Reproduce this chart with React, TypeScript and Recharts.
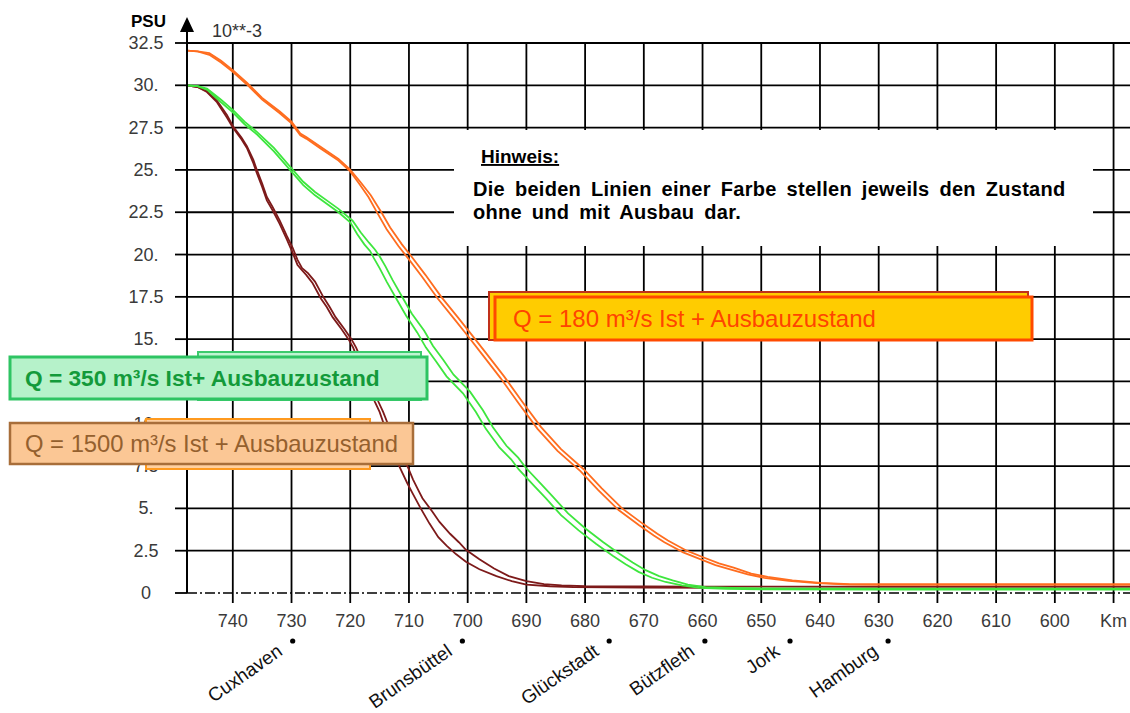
import React from 'react';
import { LineChart, Line, XAxis, YAxis, CartesianGrid } from 'recharts';

const FONT = '"Liberation Sans", Arial, sans-serif';

// Axis ticks and labels
const xTicks = [740, 730, 720, 710, 700, 690, 680, 670, 660, 650, 640, 630, 620, 610, 600, 590];
const xTickLabels = ['740', '730', '720', '710', '700', '690', '680', '670', '660', '650', '640', '630', '620', '610', '600', 'Km'];
const xDomain = [587.2, 747.8];
const yTicks = [0, 2.5, 5, 7.5, 10, 12.5, 15, 17.5, 20, 22.5, 25, 27.5, 30, 32.5];
const yTickLabels = ['0', '2.5', '5.', '7.5', '10.', '12.5', '15.', '17.5', '20.', '22.5', '25.', '27.5', '30.', '32.5'];
const yGridValues = [2.5, 5, 7.5, 10, 12.5, 15, 17.5, 20, 22.5, 25, 27.5, 30, 32.5];

// Places along the Elbe (km)
const placeNames = ['Cuxhaven', 'Brunsbüttel', 'Glückstadt', 'Bützfleth', 'Jork', 'Hamburg'];
const placeKm = [729.8, 700.9, 675.9, 659.6, 645.1, 628.4];

// Salinity [km, PSU]
const q1500Ohne = [[747.8,30.0],[746,29.9],[744.4,29.6],[742.7,29.0],[741,28.1],[740,27.5],[738.5,26.8],[737.6,26.3],[736.5,25.4],[735.9,24.8],[735,24.0],[734.2,23.2],[733.2,22.6],[732,21.8],[730.8,20.9],[729.8,20.1],[729,19.4],[728.3,19.1],[727.5,18.8],[726.4,18.3],[725,17.4],[724,16.9],[723,16.3],[721.5,15.6],[720.3,15.0],[719.5,14.5],[718.5,13.6],[717.5,12.8],[716.5,11.9],[715.8,11.3],[715,10.7],[714.3,10.0],[713.2,9.0],[712.3,8.1],[711.6,7.45],[710.3,6.5],[709.4,5.9],[708,5.0],[706.5,4.1],[705,3.3],[703.6,2.8],[702,2.3],[700.3,1.85],[698,1.4],[695.1,1.0],[692.5,0.7],[690,0.5],[686,0.4],[682,0.35],[670,0.32],[656,0.3]];
const q1500Mit = [[747.8,30.0],[746,29.9],[744.4,29.65],[742.7,29.1],[741,28.25],[740,27.6],[738.5,26.9],[737.6,26.4],[736.5,25.6],[735.9,25.0],[735,24.2],[734.2,23.4],[733.2,22.8],[732,22.0],[730.8,21.1],[729.8,20.4],[729,19.7],[728.2,19.2],[727.2,18.9],[726,18.4],[724.6,17.5],[723.5,16.9],[722.5,16.3],[721,15.6],[719.8,15.0],[719,14.5],[718,13.7],[717,12.9],[716,12.0],[715.2,11.3],[714.4,10.7],[713.6,10.0],[712.5,9.0],[711.5,8.1],[710.2,7.45],[709.3,6.7],[708.3,6.0],[707.7,5.6],[706,4.8],[704.8,4.2],[703,3.5],[701.5,3.0],[700.3,2.55],[698,2.0],[695.5,1.45],[693,1.0],[690,0.7],[687,0.52],[684,0.45],[680,0.4],[660,0.38],[630,0.37],[587.2,0.37]];
const q350Ohne = [[747.8,30.0],[746,29.95],[744.4,29.75],[742,29.0],[740,28.4],[738,27.7],[735.9,27.1],[733,26.1],[730,24.9],[728,24.1],[726,23.5],[724,23.0],[722,22.5],[720,21.9],[718.8,21.2],[717.6,20.6],[716.6,20.2],[716,19.8],[715,19.2],[713.8,18.4],[712,17.3],[710.5,16.4],[708.6,15.4],[707.1,14.5],[705.4,13.7],[703.6,12.8],[700.8,11.8],[698.6,10.7],[696.9,9.7],[694.6,8.6],[692.6,7.9],[691.3,7.3],[688.6,6.3],[686.7,5.6],[684.1,4.6],[681.1,3.7],[678.1,2.9],[675.3,2.2],[673.1,1.7],[670.9,1.25],[668.6,0.9],[666.3,0.65],[663.5,0.45],[660.5,0.3],[656,0.25],[650,0.22],[630,0.2],[587.2,0.2]];
const q350Mit = [[747.8,30.0],[746,29.95],[744.4,29.8],[742,29.15],[740,28.55],[738,27.85],[735.9,27.25],[733,26.3],[730,25.1],[728,24.3],[726,23.7],[724,23.2],[722,22.7],[719.6,22.0],[718.2,21.3],[716.8,20.7],[715.8,20.3],[715,19.9],[714,19.3],[712.8,18.5],[711,17.4],[709.5,16.5],[707.4,15.5],[705.9,14.6],[704.2,13.8],[702.4,12.9],[699.6,11.9],[697.4,10.8],[695.7,9.8],[693.4,8.7],[691.4,8.0],[690.1,7.4],[687.4,6.4],[685.5,5.7],[682.9,4.7],[679.9,3.8],[676.9,3.0],[674.1,2.3],[671.9,1.8],[669.7,1.35],[667.4,1.0],[665.1,0.75],[662.5,0.5],[659.5,0.35],[655,0.3],[650,0.27],[640,0.25],[587.2,0.25]];
const q180Ohne = [[747.8,32.05],[746,32.0],[744,31.8],[742,31.35],[740,30.8],[737.6,30.05],[735,29.15],[732,28.35],[730,27.75],[728.5,27.05],[727.5,26.85],[725,26.25],[722,25.55],[720.1,24.95],[718.5,24.2],[716.9,23.4],[715.3,22.4],[713.8,21.5],[711.8,20.5],[710.2,19.8],[707.8,18.7],[705.1,17.4],[702.3,16.2],[700,15.2],[697.3,14.0],[694.4,12.7],[691.3,11.2],[688.1,9.7],[684.7,8.4],[680.8,7.2],[677.8,6.1],[674.3,4.9],[670.8,4.0],[668.3,3.4],[666.5,3.0],[663.3,2.4],[660.4,2.0],[657.8,1.65],[655.3,1.4],[652.3,1.1],[649.5,0.9],[645.3,0.72],[640.5,0.58],[635,0.5],[630,0.48],[587.2,0.48]];
const q180Mit = [[747.8,32.05],[746,32.0],[744,31.9],[742,31.45],[740,30.9],[737.6,30.15],[735,29.25],[732,28.45],[730,27.85],[728.5,27.15],[727.5,26.95],[725,26.35],[722,25.65],[720.1,25.05],[718.3,24.3],[716.5,23.5],[714.7,22.5],[713.2,21.6],[711.2,20.6],[709.6,19.9],[707.2,18.8],[704.5,17.5],[701.7,16.3],[699.4,15.3],[696.7,14.1],[693.8,12.8],[690.7,11.3],[687.5,9.8],[684.1,8.5],[680.2,7.3],[677.2,6.2],[673.7,5.0],[670.2,4.1],[667.7,3.5],[665.9,3.1],[662.7,2.5],[659.8,2.1],[657.2,1.75],[654.7,1.5],[651.7,1.15],[648.9,0.95],[644.7,0.75],[639.9,0.6],[635,0.53],[630,0.52],[587.2,0.52]];

const toPoints = (pairs: number[][]) => pairs.map(([km, psu]) => ({ km, psu }));

const COL_MAROON = '#7d1a1a';
const COL_GREEN = '#3ee63e';
const COL_ORANGE = '#ff6d1f';

const series = [
  { name: 'Q1500 ohne', data: q1500Ohne, color: COL_MAROON },
  { name: 'Q1500 mit', data: q1500Mit, color: COL_MAROON },
  { name: 'Q350 ohne', data: q350Ohne, color: COL_GREEN },
  { name: 'Q350 mit', data: q350Mit, color: COL_GREEN },
  { name: 'Q180 ohne', data: q180Ohne, color: COL_ORANGE },
  { name: 'Q180 mit', data: q180Mit, color: COL_ORANGE },
];

const XTick = (props: any) => {
  const { x, y, payload } = props;
  const i = xTicks.indexOf(payload.value);
  return (
    <text x={x} y={y + 22} textAnchor="middle" fontSize={18} fill="#3a3a3a" fontFamily={FONT}>
      {i >= 0 ? xTickLabels[i] : payload.value}
    </text>
  );
};

const YTick = (props: any) => {
  const { x, y, payload } = props;
  const i = yTicks.indexOf(payload.value);
  return (
    <text x={x - 27} y={y + 6} textAnchor="middle" fontSize={18} fill="#3a3a3a" fontFamily={FONT}>
      {i >= 0 ? yTickLabels[i] : payload.value}
    </text>
  );
};

const PlaceTick = (props: any) => {
  const { x, y, payload } = props;
  const i = placeKm.indexOf(payload.value);
  const name = i >= 0 ? placeNames[i] : '';
  const tx = x - 9;
  const ty = y + 21;
  return (
    <g>
      <circle cx={x} cy={y + 8} r={2.6} fill="#000" />
      <text x={tx} y={ty} textAnchor="end" fontSize={19} fill="#111" fontFamily={FONT}
        transform={`rotate(-35 ${tx} ${ty})`}>
        {name}
      </text>
    </g>
  );
};

const Overlay = () => (
  <svg width={1130} height={713} style={{ position: 'absolute', left: 0, top: 0, pointerEvents: 'none' }}
    fontFamily={FONT}>
    {/* y axis arrow */}
    <line x1={187} y1={44} x2={187} y2={30} stroke="#000" strokeWidth={2} />
    <polygon points="187,17 180,32 194,32" fill="#000" />
    <text x={131} y={27} fontSize={17} fontWeight="bold" fill="#000">PSU</text>
    <text x={212} y={37} fontSize={18} fill="#333">10**-3</text>

    {/* note box */}
    <rect x={454} y={130} width={639} height={116} fill="#fff" />
    <text x={481} y={163} fontSize={19} fontWeight="bold" fill="#000" textDecoration="underline">Hinweis:</text>
    <text x={473} y={196} fontSize={20} fontWeight="bold" fill="#000" letterSpacing={0.3} wordSpacing={4}>
      Die beiden Linien einer Farbe stellen jeweils den Zustand
    </text>
    <text x={473} y={219} fontSize={20} fontWeight="bold" fill="#000" letterSpacing={0.3} wordSpacing={4}>
      ohne und mit Ausbau dar.
    </text>

    {/* Q = 180 */}
    <rect x={489} y={292} width={539} height={48} fill="#ffcc00" stroke="#c0301a" strokeWidth={2} />
    <rect x={495} y={297} width={537} height={43} fill="#ffcc00" stroke="#ff4a00" strokeWidth={3} />
    <text x={513} y={327} fontSize={24} fill="#ff4400">Q = 180 m³/s Ist + Ausbauzustand</text>

    {/* Q = 350 */}
    <rect x={198} y={352} width={223} height={48} fill="#bff5d2" stroke="#3ccb6d" strokeWidth={2} />
    <rect x={10} y={357} width={417} height={42} fill="#b6f2ca" stroke="#2ec463" strokeWidth={3} />
    <text x={25} y={386} fontSize={22.7} fontWeight="bold" fill="#139a3a">Q = 350 m³/s Ist+ Ausbauzustand</text>

    {/* Q = 1500 */}
    <rect x={146} y={419} width={224} height={50} fill="#ffd0a0" stroke="#ff9a1f" strokeWidth={2} />
    <rect x={10} y={423} width={403} height={41} fill="#fbc795" stroke="#a86e3a" strokeWidth={2.5} />
    <text x={25} y={452} fontSize={23.8} fill="#94602e">Q = 1500 m³/s Ist + Ausbauzustand</text>
  </svg>
);

export default function App() {
  return (
    <div style={{ position: 'absolute', left: 0, top: 0, width: 1130, height: 713, background: '#fff', fontFamily: FONT }}>
      <LineChart width={1130} height={713} margin={{ top: 43, right: 0, bottom: 0, left: 0 }}>
        <CartesianGrid xAxisId="km" stroke="#000" strokeWidth={1.8}
          horizontalValues={yGridValues} verticalValues={xTicks} />
        <XAxis xAxisId="km" dataKey="km" type="number" domain={xDomain} reversed allowDataOverflow
          ticks={xTicks} interval={0} height={40} tickSize={10}
          axisLine={{ stroke: '#000', strokeWidth: 1.6, strokeDasharray: '10 3 2 3' }}
          tickLine={{ stroke: '#000', strokeWidth: 1.8 }} tick={<XTick />} />
        <XAxis xAxisId="places" dataKey="km" type="number" domain={xDomain} reversed allowDataOverflow
          ticks={placeKm} interval={0} height={80} tickSize={0} tickMargin={0}
          axisLine={false} tickLine={false} tick={<PlaceTick />} />
        <YAxis type="number" domain={[0, 32.5]} ticks={yTicks} interval={0} width={187} tickSize={12}
          axisLine={{ stroke: '#000', strokeWidth: 2 }} tickLine={{ stroke: '#000', strokeWidth: 1.8 }}
          tick={<YTick />} allowDataOverflow />
        {series.map((s) => (
          <Line key={s.name} name={s.name} xAxisId="km" data={toPoints(s.data)} dataKey="psu" type="linear"
            stroke={s.color} strokeWidth={1.8} dot={false} activeDot={false} isAnimationActive={false} />
        ))}
      </LineChart>
      <Overlay />
    </div>
  );
}
